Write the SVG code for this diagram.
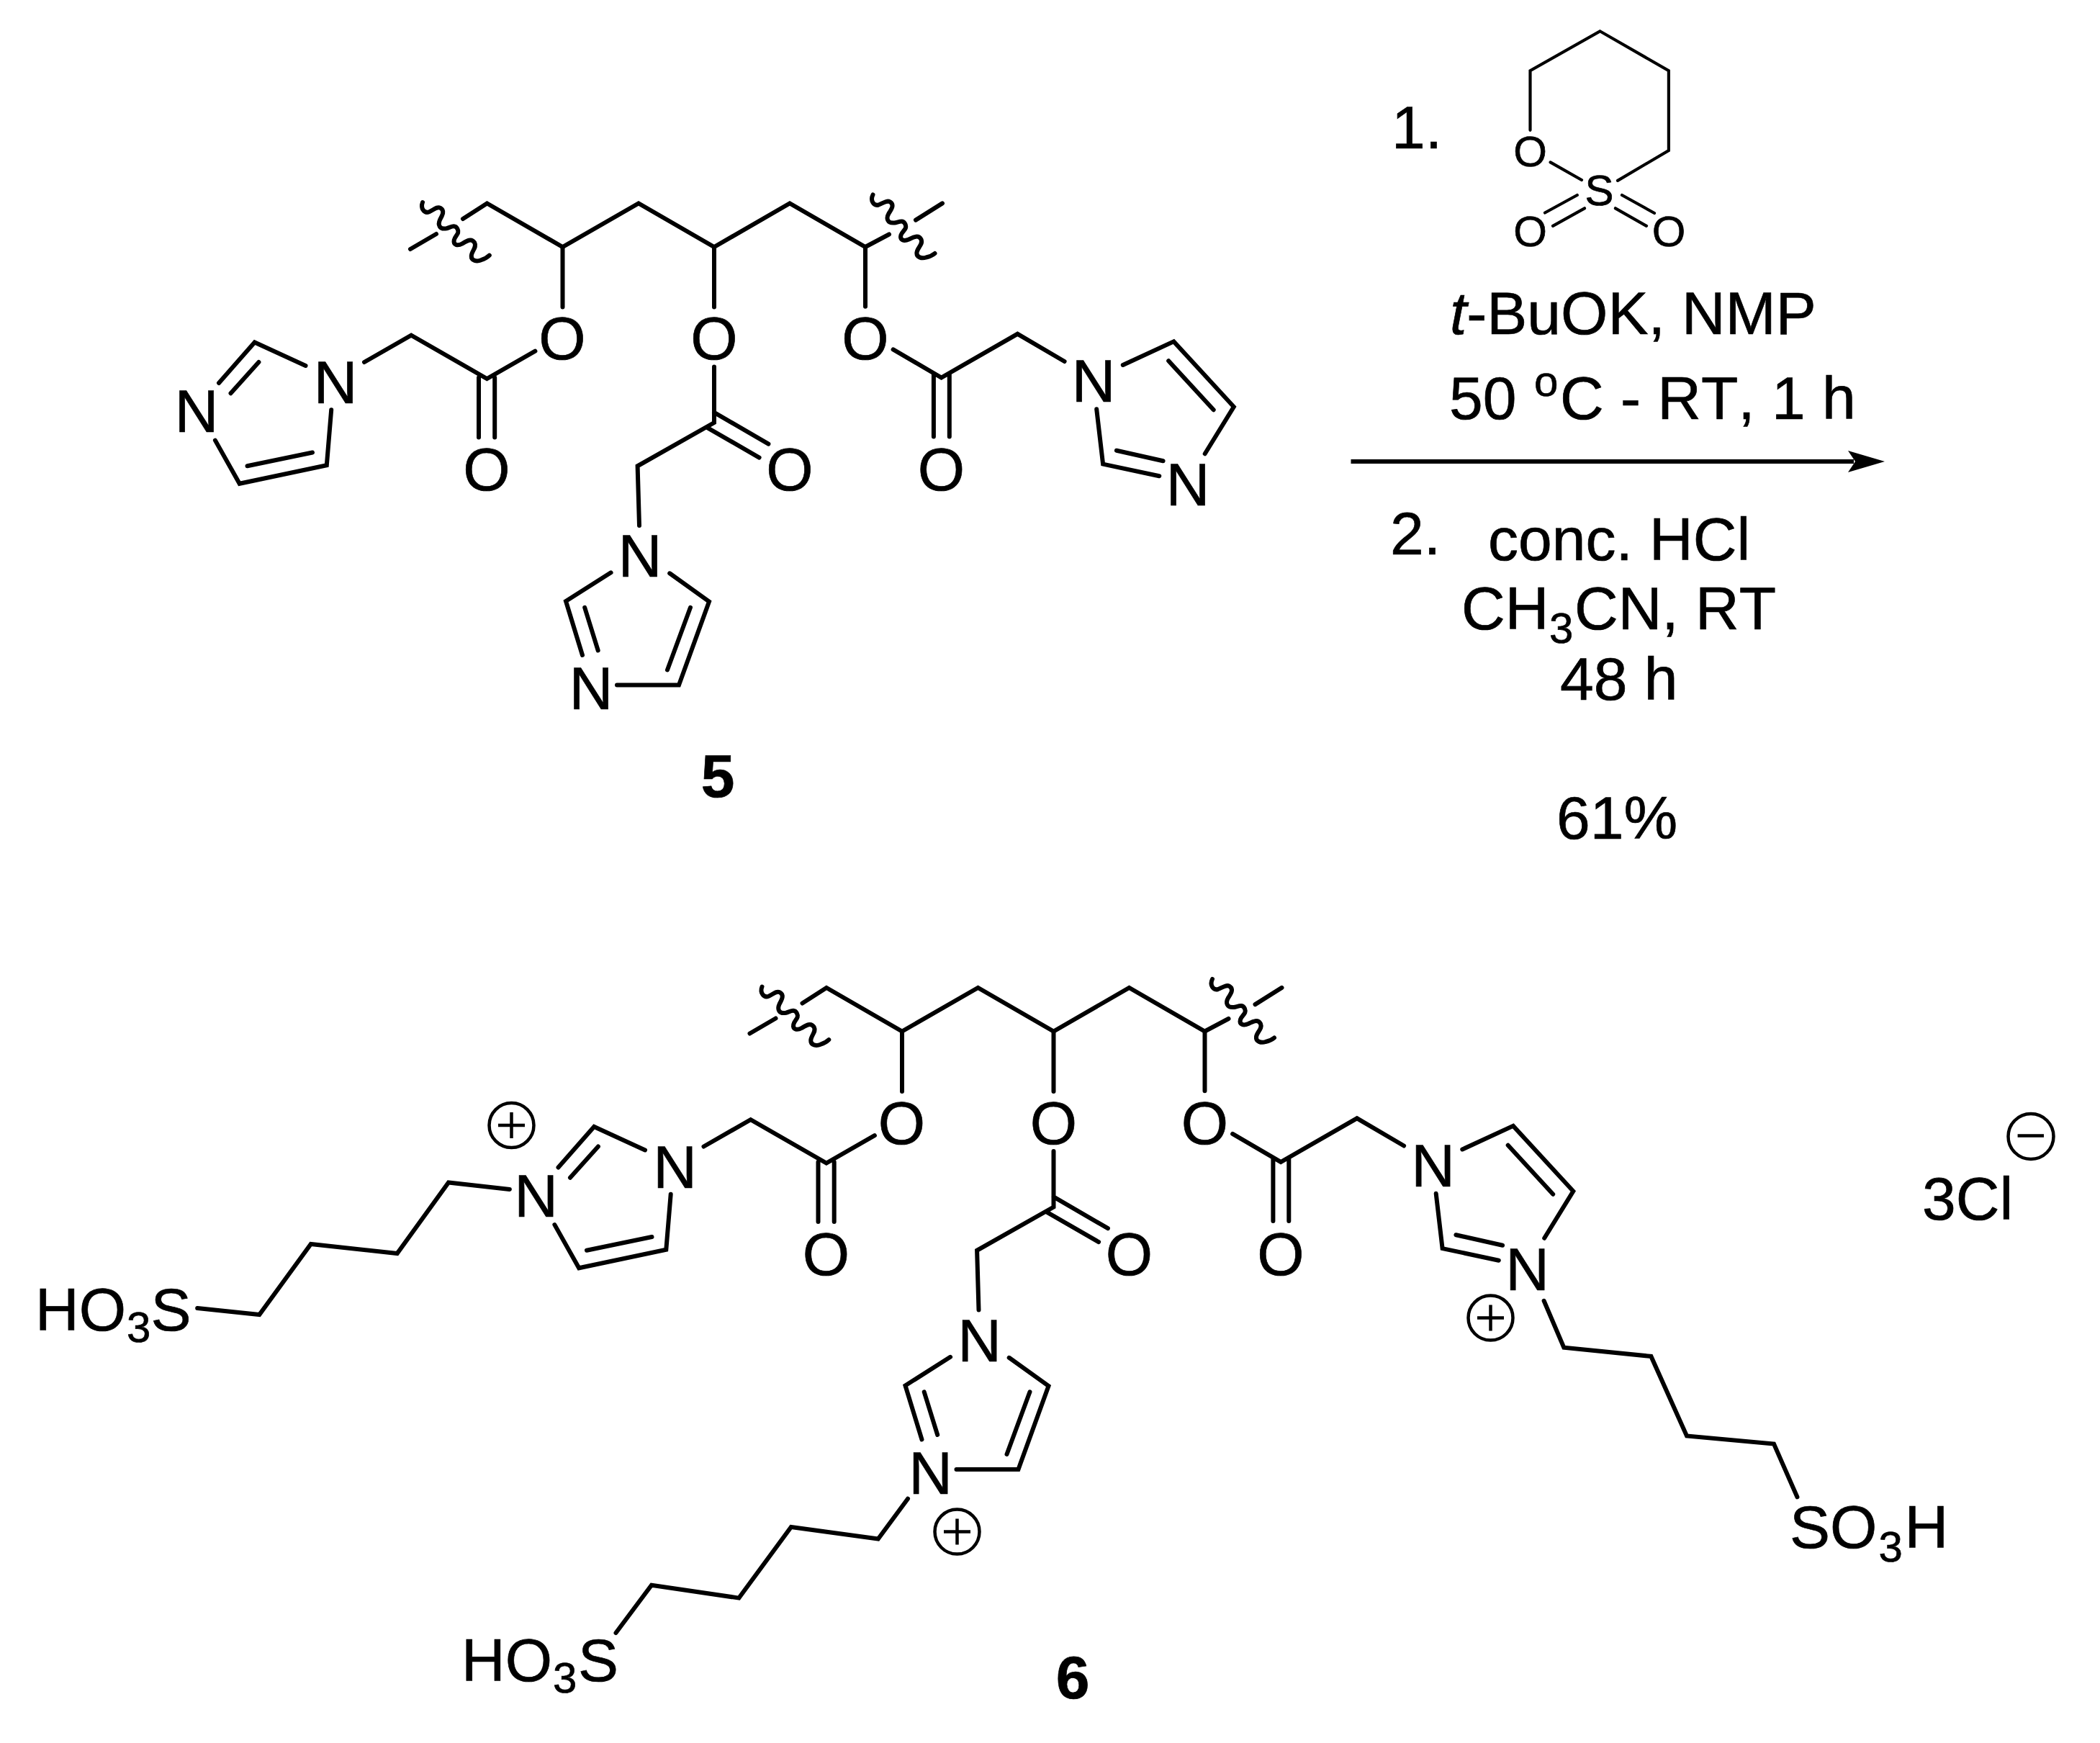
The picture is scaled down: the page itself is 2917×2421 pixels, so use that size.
<svg xmlns="http://www.w3.org/2000/svg" width="2917" height="2421" viewBox="0 0 2917 2421">
<style>
text{font-family:"Liberation Sans",Arial,sans-serif;font-size:84px;font-kerning:none;fill:#000;stroke:#000;stroke-width:.7px}
.m{text-anchor:middle}
.b{font-weight:bold}
.s{font-size:60px}
.bond{fill:none;stroke:#000;stroke-width:6px;stroke-linecap:round;stroke-linejoin:miter}
.thin{fill:none;stroke:#000;stroke-width:4.2px;stroke-linecap:round;stroke-linejoin:miter}
.charge{fill:none;stroke:#000;stroke-width:4.5px}
</style>
<defs>
<path id="wave" class="bond" d="M0,0 C-4,8 1,16 8,14 C14,12 19,7 24,10 C30,14 26,20 22,26 C18,33 20,40 30,39 C36,38 42,34 45,41 C48,48 41,50 39,56 C37,63 43,65 50,62 C56,59 63,55 67,62 C70,69 62,73 61,80 C60,87 68,89 74,87 C79,86 83,84 86,81.5"/>
</defs>
<rect width="2917" height="2421" fill="#fff"/>

<g id="compound-5">
<g id="backbone-5">
<path class="bond" d="M570,346 L606,325 M643,304 L676.5,282.5 L781.5,343 L887,282.5 L992,343 L1097,282.5 L1202,343 L1235,325.5 M1272,305.6 L1309,282.4"/>
<use href="#wave" transform="translate(587,281) rotate(-5)"/>
<use href="#wave" transform="translate(1212.5,270.5)"/>
</g>
<g id="ester-left-5">
<path class="bond" d="M781.5,343 V426.4 M743.4,487.7 L676.4,526 L571.2,465.7 L506,503 M665,524.4 V607.6 M687.2,524.4 V607.6"/>
<path class="bond" d="M424.5,508 L353.7,475.4 L304,532 M359.4,503 L320.5,546.3 M298.9,611.6 L332.7,671.8 L453.8,646.3 L460.2,569.3 M343.5,647.3 L434,628.5"/>
<text class="m" x="781" y="499">O</text><text class="m" x="676" y="681">O</text>
<text class="m" x="466" y="560">N</text><text class="m" x="273" y="600">N</text>
</g>
<g id="ester-middle-5">
<path class="bond" d="M992,343 V426.4 M992,509.6 V587 L885.6,647.3 L888,730 M992,572.9 L1067.4,616.7 M981.3,593.3 L1054.6,635.6"/>
<path class="bond" d="M848.6,795.3 L786,835 L809,910 M812.2,843.8 L830.7,903.5 M857,951.4 H943 L985,835.6 L930.2,796.3 M927,930.5 L959,843.8"/>
<text class="m" x="992" y="499">O</text><text class="m" x="1097" y="681">O</text>
<text class="m" x="889" y="801">N</text><text class="m" x="821" y="985">N</text>
</g>
<g id="ester-right-5">
<path class="bond" d="M1202,343 V425.7 M1240.6,485.4 L1307.6,524.5 L1413.4,463.8 L1478.6,502 M1296.9,520 V606.5 M1318.8,520 V606.5"/>
<path class="bond" d="M1559.8,507 L1630.4,474.4 L1713.8,565 L1673.7,630.3 M1623.2,501.3 L1685.7,569.3 M1523.2,568.3 L1532.1,644.6 L1610.3,661.2 M1550.9,625.7 L1615.6,640.3"/>
<text class="m" x="1202" y="499">O</text><text class="m" x="1307.5" y="681">O</text>
<text class="m" x="1519" y="558">N</text><text class="m" x="1650" y="702">N</text>
</g>
<text id="label-5" class="m b" x="997" y="1107">5</text>
</g>

<g id="reagents">
<g id="sultone">
<path class="thin" d="M2125.5,180.8 V98.2 L2222.4,43.3 L2317.9,98.2 V209 L2247,250.9 M2153.6,225.4 L2197,250 M2146,295.5 L2190.8,271 M2157,313.8 L2201,289.3 M2253,271 L2298,296 M2243.9,289.3 L2287,313.8"/>
<text class="m s" x="2125.5" y="231">O</text>
<text class="m s" x="2221.5" y="285">S</text>
<text class="m s" x="2125.5" y="342">O</text>
<text class="m s" x="2318" y="342">O</text>
</g>
<text x="1933" y="206">1.</text>
<text x="2014" y="464"><tspan font-style="italic">t</tspan>-BuOK, NMP</text>
<text x="2013" y="582">50 <tspan class="s" x="2131" y="550">o</tspan><tspan x="2167" y="582">C - RT, 1 h</tspan></text>
<text x="1931" y="770">2.</text>
<text x="2067" y="778">conc. HCl</text>
<text x="2030" y="874">CH<tspan class="s" x="2152" y="893">3</tspan><tspan x="2187" y="874">CN, RT</tspan></text>
<text x="2167" y="972">48 h</text>
<text x="2162" y="1165">61%</text>
</g>

<g id="connectors">
<path d="M1876.5,641 H2575" fill="none" stroke="#000" stroke-width="6"/>
<polygon points="2618,641 2567,626 2577,641 2567,656" fill="#000"/>
</g>

<g id="compound-6">
<g transform="translate(471.5,1089.5)">
<g id="backbone-6">
<path class="bond" d="M570,346 L606,325 M643,304 L676.5,282.5 L781.5,343 L887,282.5 L992,343 L1097,282.5 L1202,343 L1235,325.5 M1272,305.6 L1309,282.4"/>
<use href="#wave" transform="translate(587,281) rotate(-5)"/>
<use href="#wave" transform="translate(1212.5,270.5)"/>
</g>
<g id="ester-left-6">
<path class="bond" d="M781.5,343 V426.4 M743.4,487.7 L676.4,526 L571.2,465.7 L506,503 M665,524.4 V607.6 M687.2,524.4 V607.6"/>
<path class="bond" d="M424.5,508 L353.7,475.4 L304,532 M359.4,503 L320.5,546.3 M298.9,611.6 L332.7,671.8 L453.8,646.3 L460.2,569.3 M343.5,647.3 L434,628.5"/>
<text class="m" x="781" y="499">O</text><text class="m" x="676" y="681">O</text>
<text class="m" x="466" y="560">N</text><text class="m" x="273" y="600">N</text>
</g>
<g id="ester-middle-6">
<path class="bond" d="M992,343 V426.4 M992,509.6 V587 L885.6,647.3 L888,730 M992,572.9 L1067.4,616.7 M981.3,593.3 L1054.6,635.6"/>
<path class="bond" d="M848.6,795.3 L786,835 L809,910 M812.2,843.8 L830.7,903.5 M857,951.4 H943 L985,835.6 L930.2,796.3 M927,930.5 L959,843.8"/>
<text class="m" x="992" y="499">O</text><text class="m" x="1097" y="681">O</text>
<text class="m" x="889" y="801">N</text><text class="m" x="821" y="985">N</text>
</g>
<g id="ester-right-6">
<path class="bond" d="M1202,343 V425.7 M1240.6,485.4 L1307.6,524.5 L1413.4,463.8 L1478.6,502 M1296.9,520 V606.5 M1318.8,520 V606.5"/>
<path class="bond" d="M1559.8,507 L1630.4,474.4 L1713.8,565 L1673.7,630.3 M1623.2,501.3 L1685.7,569.3 M1523.2,568.3 L1532.1,644.6 L1610.3,661.2 M1550.9,625.7 L1615.6,640.3"/>
<text class="m" x="1202" y="499">O</text><text class="m" x="1307.5" y="681">O</text>
<text class="m" x="1519" y="558">N</text><text class="m" x="1650" y="702">N</text>
</g>
</g>
<g id="sulfobutyl-left">
<path class="bond" d="M707.9,1652 L623,1642.4 L551.7,1741 L431.8,1728 L360.3,1826 L274.2,1816.9"/>
<text x="49" y="1848">HO<tspan class="s" x="176" y="1864">3</tspan><tspan x="209.5" y="1848">S</tspan></text>
<g id="charge-left"><circle class="charge" cx="710.5" cy="1563" r="31"/><path class="charge" d="M692,1563 H729 M710.5,1545 V1581"/></g>
</g>
<g id="sulfobutyl-middle">
<path class="bond" d="M855.5,2268 L905,2201.7 L1026.4,2219.6 L1098.9,2121 L1219.8,2137.5 L1261,2081.7"/>
<text x="641" y="2335">HO<tspan class="s" x="768" y="2351">3</tspan><tspan x="803" y="2335">S</tspan></text>
<g id="charge-middle"><circle class="charge" cx="1329.5" cy="2127.6" r="31"/><path class="charge" d="M1311,2127.6 H1348 M1329.5,2109.6 V2145.6"/></g>
</g>
<g id="sulfobutyl-right">
<path class="bond" d="M2144.6,1806.8 L2172.3,1871.8 L2293.4,1883.9 L2343,1994.4 L2464,2005.6 L2496.4,2079.3"/>
<text x="2486" y="2150">SO<tspan class="s" x="2609.5" y="2169">3</tspan><tspan x="2645.5" y="2150">H</tspan></text>
<g id="charge-right"><circle class="charge" cx="2070.5" cy="1830.6" r="31"/><path class="charge" d="M2052,1830.6 H2089 M2070.5,1812.6 V1848.6"/></g>
</g>
<g id="chloride">
<text x="2670" y="1694">3Cl</text>
<circle class="charge" cx="2821" cy="1578.5" r="31.5"/><path class="charge" d="M2802.6,1577.6 H2839"/>
</g>
<text id="label-6" class="m b" x="1490" y="2359">6</text>
</g>
</svg>
